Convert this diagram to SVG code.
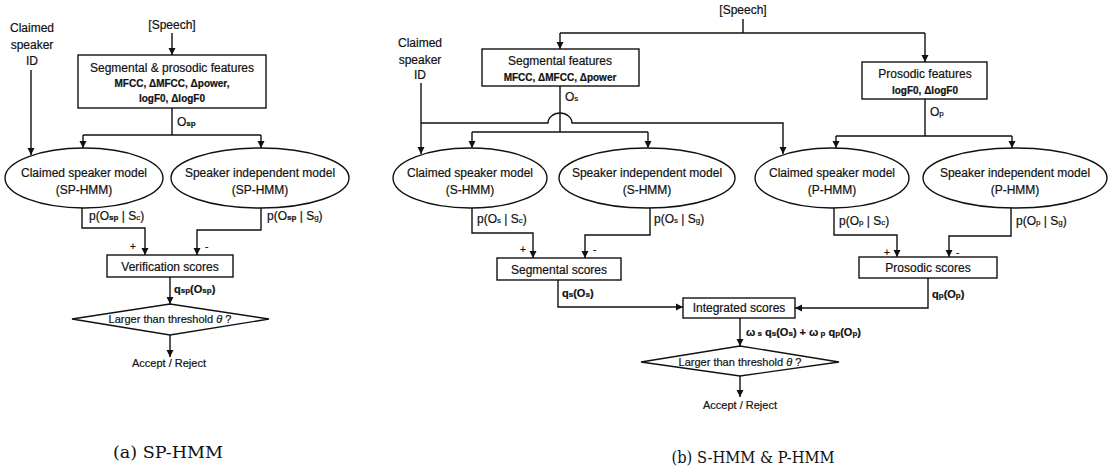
<svg xmlns="http://www.w3.org/2000/svg" width="1109" height="467" viewBox="0 0 1109 467">
<style>
text{font-family:"Liberation Sans",Arial,sans-serif;fill:#111;stroke:#111;stroke-width:0.2;}
.t{font-size:12px;text-anchor:middle;}
.s{font-size:10px;font-weight:bold;text-anchor:middle;}
.l{font-size:12px;}
.lb{font-size:11px;font-weight:bold;}
.pm{font-size:10px;}
.d{font-size:11px;text-anchor:middle;}
.cap{font-family:"DejaVu Serif","Liberation Serif",serif;font-size:16.5px;text-anchor:middle;stroke:none;}
.sub{font-size:8px;}
.box{fill:#fff;stroke:#111;stroke-width:1.4;}
.ln{fill:none;stroke:#111;stroke-width:1.4;}
.ar{fill:none;stroke:#111;stroke-width:1.4;marker-end:url(#ah);}
</style>
<defs>
<marker id="ah" markerUnits="userSpaceOnUse" markerWidth="8" markerHeight="8" refX="7" refY="4" orient="auto">
<path d="M0,0.5 L7,4 L0,7.5 z" fill="#111"/>
</marker>
</defs>
<rect width="1109" height="467" fill="#fff"/>

<g id="connectors">
<!-- (a) -->
<path class="ar" d="M31,70 V155"/>
<path class="ar" d="M172,33 V55"/>
<path class="ln" d="M172,108 V135 M83,135 H261"/>
<path class="ar" d="M83,135 V148"/>
<path class="ar" d="M261,135 V148"/>
<path class="ar" d="M82,208 V228 H145 V255"/>
<path class="ar" d="M261,208 V230 H197 V255"/>
<path class="ar" d="M170,277 V304"/>
<path class="ar" d="M170,335 V357"/>
<!-- (b) -->
<path class="ar" d="M421,83 V154"/>
<path class="ar" d="M421,123 H548 A12,10 0 0 1 572,123 H783 V154"/>
<path class="ln" d="M743,19 V33 M560,33 H925"/>
<path class="ar" d="M560,33 V49"/>
<path class="ar" d="M925,33 V62"/>
<path class="ln" d="M560,86 V132 M472,132 H648"/>
<path class="ar" d="M472,132 V148"/>
<path class="ar" d="M648,132 V148"/>
<path class="ln" d="M925,99 V136 M836,136 H1012"/>
<path class="ar" d="M836,136 V148"/>
<path class="ar" d="M1012,136 V148"/>
<path class="ar" d="M472,208 V233 H533 V258"/>
<path class="ar" d="M650,208 V235 H585 V258"/>
<path class="ar" d="M834,208 V235 H897 V257"/>
<path class="ar" d="M1011,208 V236 H949 V257"/>
<path class="ar" d="M558,280 V307 H683"/>
<path class="ar" d="M928,278 V308 H795"/>
<path class="ar" d="M740,318 V346"/>
<path class="ar" d="M740,376 V397"/>
</g>

<!-- (a) SP-HMM -->
<g id="a-claimed-id">
<text class="t" x="32" y="32">Claimed</text>
<text class="t" x="32" y="49">speaker</text>
<text class="t" x="32" y="65">ID</text>
</g>
<g id="a-speech"><text class="t" x="172" y="29">[Speech]</text></g>
<g id="a-features">
<rect class="box" x="78" y="55" width="188" height="53"/>
<text class="t" x="172" y="72">Segmental &amp; prosodic features</text>
<text class="s" x="172" y="87">MFCC, ΔMFCC, Δpower,</text>
<text class="s" x="172" y="102">logF0, ΔlogF0</text>
</g>
<g id="a-labels">
<text class="l" x="177" y="126">O<tspan class="sub" font-weight="bold">sp</tspan></text>
<text class="l" x="89" y="220">p(O<tspan class="sub" font-weight="bold">sp</tspan> | S<tspan class="sub">c</tspan>)</text>
<text class="l" x="267" y="220">p(O<tspan class="sub" font-weight="bold">sp</tspan> | S<tspan class="sub">g</tspan>)</text>
<text class="pm" x="130" y="250">+</text>
<text class="pm" x="205" y="250">-</text>
<text class="lb" x="174" y="293">q<tspan class="sub">sp</tspan>(O<tspan class="sub">sp</tspan>)</text>
</g>
<g id="a-claimed-model">
<ellipse class="box" cx="84" cy="178" rx="79" ry="30"/>
<text class="t" x="84" y="177">Claimed speaker model</text>
<text class="t" x="84" y="194">(SP-HMM)</text>
</g>
<g id="a-independent-model">
<ellipse class="box" cx="260" cy="178" rx="89" ry="30"/>
<text class="t" x="260" y="177">Speaker independent model</text>
<text class="t" x="260" y="194">(SP-HMM)</text>
</g>
<g id="a-verification">
<rect class="box" x="107" y="255" width="126" height="22"/>
<text class="t" x="170" y="271">Verification scores</text>
</g>
<g id="a-threshold">
<polygon class="box" points="72,319 170,304 269,319 170,335"/>
<text class="d" x="170" y="323">Larger than threshold <tspan font-style="italic">θ</tspan> ?</text>
</g>
<g id="a-decision"><text class="d" x="169" y="367">Accept / Reject</text></g>
<g id="a-caption"><text class="cap" x="168" y="458" textLength="110" lengthAdjust="spacingAndGlyphs">(a) SP-HMM</text></g>

<!-- (b) S-HMM & P-HMM -->
<g id="b-claimed-id">
<text class="t" x="420" y="47">Claimed</text>
<text class="t" x="420" y="64">speaker</text>
<text class="t" x="420" y="79">ID</text>
</g>
<g id="b-speech"><text class="t" x="743" y="14">[Speech]</text></g>
<g id="b-seg-features">
<rect class="box" x="482" y="49" width="157" height="37"/>
<text class="t" x="560" y="65">Segmental features</text>
<text class="s" x="560" y="81">MFCC, ΔMFCC, Δpower</text>
</g>
<g id="b-pros-features">
<rect class="box" x="862" y="62" width="125" height="37"/>
<text class="t" x="925" y="78">Prosodic features</text>
<text class="s" x="925" y="94">logF0, ΔlogF0</text>
</g>
<g id="b-labels">
<text class="l" x="565" y="101">O<tspan class="sub">s</tspan></text>
<text class="l" x="930" y="116">O<tspan class="sub">p</tspan></text>
<text class="l" x="477" y="223">p(O<tspan class="sub">s</tspan> | S<tspan class="sub">c</tspan>)</text>
<text class="l" x="654" y="223">p(O<tspan class="sub">s</tspan> | S<tspan class="sub">g</tspan>)</text>
<text class="l" x="839" y="225">p(O<tspan class="sub">p</tspan> | S<tspan class="sub">c</tspan>)</text>
<text class="l" x="1016" y="225">p(O<tspan class="sub">p</tspan> | S<tspan class="sub">g</tspan>)</text>
<text class="pm" x="520" y="253">+</text>
<text class="pm" x="593" y="253">-</text>
<text class="pm" x="884" y="256">+</text>
<text class="pm" x="956" y="256">-</text>
<text class="lb" x="562" y="297">q<tspan class="sub">s</tspan>(O<tspan class="sub">s</tspan>)</text>
<text class="lb" x="932" y="298">q<tspan class="sub">p</tspan>(O<tspan class="sub">p</tspan>)</text>
<text class="lb" x="746" y="336">ω<tspan class="sub"> s</tspan> q<tspan class="sub">s</tspan>(O<tspan class="sub">s</tspan>) + ω<tspan class="sub"> p</tspan> q<tspan class="sub">p</tspan>(O<tspan class="sub">p</tspan>)</text>
</g>
<g id="b-claimed-s">
<ellipse class="box" cx="470" cy="178" rx="77" ry="30"/>
<text class="t" x="470" y="177">Claimed speaker model</text>
<text class="t" x="470" y="194">(S-HMM)</text>
</g>
<g id="b-independent-s">
<ellipse class="box" cx="647" cy="178" rx="88" ry="30"/>
<text class="t" x="647" y="177">Speaker independent model</text>
<text class="t" x="647" y="194">(S-HMM)</text>
</g>
<g id="b-claimed-p">
<ellipse class="box" cx="832" cy="178" rx="77" ry="30"/>
<text class="t" x="832" y="177">Claimed speaker model</text>
<text class="t" x="832" y="194">(P-HMM)</text>
</g>
<g id="b-independent-p">
<ellipse class="box" cx="1015" cy="178" rx="92" ry="30"/>
<text class="t" x="1015" y="177">Speaker independent model</text>
<text class="t" x="1015" y="194">(P-HMM)</text>
</g>
<g id="b-seg-scores">
<rect class="box" x="497" y="258" width="124" height="22"/>
<text class="t" x="559" y="274">Segmental scores</text>
</g>
<g id="b-pros-scores">
<rect class="box" x="859" y="257" width="138" height="21"/>
<text class="t" x="928" y="272">Prosodic scores</text>
</g>
<g id="b-integrated">
<rect class="box" x="683" y="298" width="112" height="20"/>
<text class="t" x="739" y="312">Integrated scores</text>
</g>
<g id="b-threshold">
<polygon class="box" points="641,362 740,346 839,362 740,376"/>
<text class="d" x="740" y="366">Larger than threshold <tspan font-style="italic">θ</tspan> ?</text>
</g>
<g id="b-decision"><text class="d" x="740" y="409">Accept / Reject</text></g>
<g id="b-caption"><text class="cap" x="753" y="463" textLength="163" lengthAdjust="spacingAndGlyphs">(b) S-HMM &amp; P-HMM</text></g>
</svg>
